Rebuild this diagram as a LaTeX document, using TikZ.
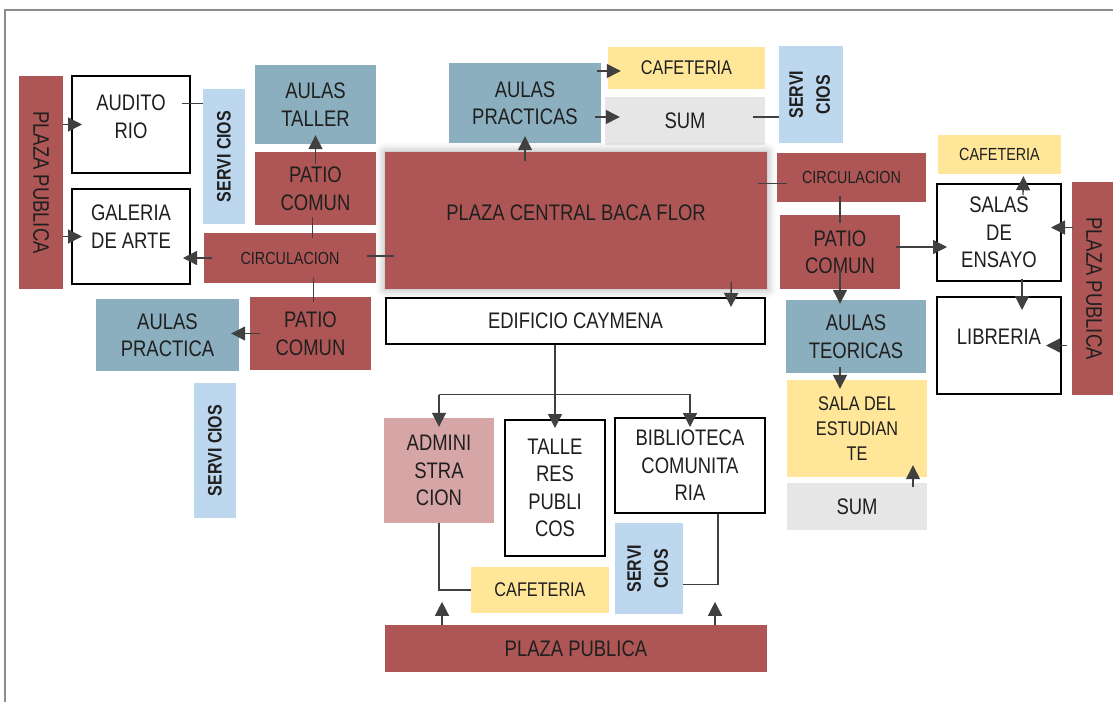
\documentclass[tikz,border=0pt]{standalone}
\usepackage{fontspec}
\setmainfont[FakeStretch=0.82]{Liberation Sans}
\definecolor{rojoplaza}{RGB}{174,86,86}
\definecolor{azultaller}{RGB}{139,175,190}
\definecolor{celesteserv}{RGB}{189,215,238}
\definecolor{amarillocafe}{RGB}{255,230,153}
\definecolor{grissum}{RGB}{230,230,230}
\definecolor{rosaadmin}{RGB}{214,165,165}
\definecolor{grisflecha}{RGB}{64,64,64}
\definecolor{grismarco}{RGB}{140,140,140}
\usetikzlibrary{arrows.meta,shadows.blur}

\begin{document}
\begin{tikzpicture}[x=1pt, y=-1pt,
            caja/.style={rectangle, inner sep=0pt, align=center, text=black!88, font=\fontsize{22.5}{27.5}\selectfont},
            cajaroja/.style={caja, fill=rojoplaza},
            cajaazul/.style={caja, fill=azultaller},
            cajaceleste/.style={caja, fill=celesteserv, font=\fontsize{19.5}{27}\selectfont\bfseries},
            cajaamarilla/.style={caja, fill=amarillocafe},
            cajagris/.style={caja, fill=grissum},
            cajarosa/.style={caja, fill=rosaadmin},
            cajablanca/.style={caja, fill=white, draw=black, line width=2pt},
            letrachica/.style={font=\fontsize{17.5}{20}\selectfont},
            letramedia/.style={font=\fontsize{19.8}{25}\selectfont},
            subir/.style={text depth=#1},
            flecha/.style={draw=grisflecha, line width=1.3pt, -{Triangle[length=14pt,width=14pt]}},
            linea/.style={draw=grisflecha, line width=1.3pt}]
            \useasboundingbox (0,0) rectangle (1113,702);
            \draw[grismarco, line width=2pt] (5,702) -- (5,10) -- (1113,10);

            \node[cajaroja, minimum width=44, minimum height=213] (pp1) at (41,182.5) {\rotatebox{-90}{PLAZA PUBLICA}};
            \node[cajablanca, subir=16pt, minimum width=118, minimum height=97] (aud) at (131,124.5) {AUDITO\\RIO};
            \node[cajablanca, subir=20pt, minimum width=118, minimum height=95] (gal) at (131,236.5) {GALERIA\\DE ARTE};
            \node[cajaceleste, minimum width=42, minimum height=135] (serv1) at (224,156.5) {\rotatebox{90}{SERVI CIOS}};
            \node[cajaazul, minimum width=121, minimum height=79] (aultal) at (315.5,104.5) {AULAS\\TALLER};
            \node[cajaroja, minimum width=121, minimum height=73] (patio1) at (315.5,188.5) {PATIO\\COMUN};
            \node[cajaroja, letrachica, minimum width=172, minimum height=50] (circ1) at (290,258) {CIRCULACION};
            \node[cajaroja, minimum width=121, minimum height=73] (patio2) at (310.5,333.5) {PATIO\\COMUN};
            \node[cajaazul, minimum width=143, minimum height=72] (aulprac) at (167.5,335) {AULAS\\PRACTICA};
            \node[cajaceleste, minimum width=42, minimum height=135] (serv2) at (215,450.5) {\rotatebox{90}{SERVI CIOS}};

            \node[cajaazul, minimum width=152, minimum height=80] (aulpracs) at (525,103) {AULAS\\PRACTICAS};
            \node[cajaamarilla, letramedia, minimum width=157, minimum height=42] (caf1) at (686.5,68) {CAFETERIA};
            \node[cajagris, minimum width=160, minimum height=48] (sum1) at (685,121) {SUM};
            \node[cajaceleste, minimum width=64, minimum height=97] (serv3) at (811,94.5) {\rotatebox{90}{\begin{tabular}{@{}c@{}}SERVI\\CIOS\end{tabular}}};
            \node[cajaroja, letrachica, minimum width=149, minimum height=49] (circ2) at (851.5,177.5) {CIRCULACION};
            \node[cajaroja, subir=16pt, minimum width=382, minimum height=137, blur shadow={shadow xshift=0pt, shadow yshift=0pt, shadow blur radius=9pt, shadow opacity=35}] (plaza) at (576,220.5) {PLAZA CENTRAL BACA FLOR};
            \node[cajablanca, minimum width=379, minimum height=46] (edif) at (575.5,321) {EDIFICIO CAYMENA};

            \node[cajaroja, minimum width=120, minimum height=74] (patio3) at (840,252) {PATIO\\COMUN};
            \node[cajaamarilla, letrachica, minimum width=123, minimum height=39] (caf2) at (999.5,154.5) {CAFETERIA};
            \node[cajablanca, minimum width=124, minimum height=97] (salas) at (999,232.5) {SALAS\\DE\\ENSAYO};
            \node[cajablanca, subir=18pt, minimum width=124, minimum height=97] (libr) at (999,345.5) {LIBRERIA};
            \node[cajaroja, minimum width=44, minimum height=213] (pp2) at (1094,288.5) {\rotatebox{-90}{PLAZA PUBLICA}};
            \node[cajaazul, minimum width=140, minimum height=73] (aulteo) at (856,336.5) {AULAS\\TEORICAS};
            \node[cajaamarilla, letramedia, minimum width=140, minimum height=97] (salaest) at (857,428.5) {SALA DEL\\ESTUDIAN\\TE};
            \node[cajagris, minimum width=140, minimum height=47] (sum2) at (857,506.5) {SUM};

            \node[cajarosa, minimum width=110, minimum height=105] (admin) at (439,470.5) {ADMINI\\STRA\\CION};
            \node[cajablanca, minimum width=100, minimum height=136] (taller) at (555,488) {TALLE\\RES\\PUBLI\\COS};
            \node[cajablanca, minimum width=150, minimum height=95] (biblio) at (690,465.5) {BIBLIOTECA\\COMUNITA\\RIA};
            \node[cajaamarilla, letramedia, minimum width=138, minimum height=46] (caf3) at (540,590) {CAFETERIA};
            \node[cajaceleste, minimum width=68, minimum height=91] (serv4) at (649,568.5) {\rotatebox{90}{\begin{tabular}{@{}c@{}}SERVI\\CIOS\end{tabular}}};
            \node[cajaroja, minimum width=382, minimum height=47] (pp3) at (576,648.5) {PLAZA PUBLICA};

            \draw[flecha] (pp1.east |- aud) -- ([xshift=11]aud.west);
            \draw[flecha] (pp1.east |- gal) -- ([xshift=11]gal.west);
            \draw[linea] ([xshift=-9,yshift=21]aud.east) -- ([yshift=21]aud.east -| serv1.west);
            \draw[flecha] ([yshift=25]patio1.center) -- ([yshift=9]aultal.south);
            \draw[linea] ([xshift=-3,yshift=8]patio1.south) -- ([xshift=-3,yshift=-5]patio1.south |- circ1.north);
            \draw[flecha] ([xshift=8]circ1.west) -- ([xshift=-8]gal.east |- circ1);
            \draw[linea] ([xshift=-9,yshift=2]circ1.east) -- ([xshift=18,yshift=2]circ1.east);
            \draw[linea] ([xshift=3,yshift=19]patio2.north) -- ([xshift=3,yshift=-5]patio2.north);
            \draw[flecha] ([xshift=10]patio2.west) -- ([xshift=-8]aulprac.east |- patio2);
            \draw[flecha] ([yshift=-9]plaza.north -| aulpracs) -- ([yshift=7]aulpracs.south);
            \draw[flecha] ([xshift=-4,yshift=-3]aulpracs.east |- caf1) -- ([xshift=13,yshift=-3]caf1.west);
            \draw[flecha] ([xshift=-6,yshift=4]aulpracs.east |- sum1) -- ([xshift=15,yshift=4]sum1.west);
            \draw[linea] ([xshift=-12,yshift=4]sum1.east) -- ([yshift=4]sum1.east -| serv3.west);
            \draw[linea] ([xshift=-9,yshift=-6]plaza.east |- circ2) -- ([xshift=10,yshift=-6]circ2.west);
            \draw[flecha] ([xshift=-36,yshift=7]plaza.south east) -- ([xshift=-35,yshift=-10]edif.north east);
            \draw[linea] ([yshift=6]circ2.south -| patio3) -- ([yshift=-8]patio3.north);
            \draw[flecha] ([yshift=19]patio3.south) -- ([yshift=-4]patio3.south |- aulteo.north);
            \draw[flecha] ([xshift=-4,yshift=5]patio3.east) -- ([xshift=11,yshift=5]salas.west |- patio3);
            \draw[flecha] ([xshift=24,yshift=-12]salas.north) -- ([xshift=24,yshift=-2]caf2.south);
            \draw[flecha] ([xshift=1,yshift=5]pp2.west |- salas) -- ([xshift=-11,yshift=5]salas.east);
            \draw[flecha] ([xshift=23,yshift=3]salas.south) -- ([xshift=23,yshift=-14]libr.north);
            \draw[flecha] ([xshift=-5]pp2.west |- libr) -- ([xshift=-16]libr.east);
            \draw[flecha] ([xshift=-16,yshift=6]aulteo.south) -- ([xshift=-17,yshift=-9]salaest.north);
            \draw[flecha] ([xshift=56,yshift=-4]sum2.north) -- ([xshift=56,yshift=12]salaest.south);
            \draw[flecha] (edif.south -| taller) -- ([yshift=-9]taller.north);
            \draw[flecha] ([yshift=23]admin.north) -- ([yshift=-9]admin.north);
            \draw[flecha] ([yshift=23]admin.north) -| ([yshift=-10]biblio.north);
            \draw[linea] (admin.south) |- (caf3.west);
            \draw[linea] ([yshift=-16]serv4.east) -| ([xshift=28]biblio.south);
            \draw[flecha] ([xshift=-134]pp3.north) -- ++(0,-23);
            \draw[flecha] ([xshift=139]pp3.north) -- ++(0,-23);
\end{tikzpicture}
\end{document}
